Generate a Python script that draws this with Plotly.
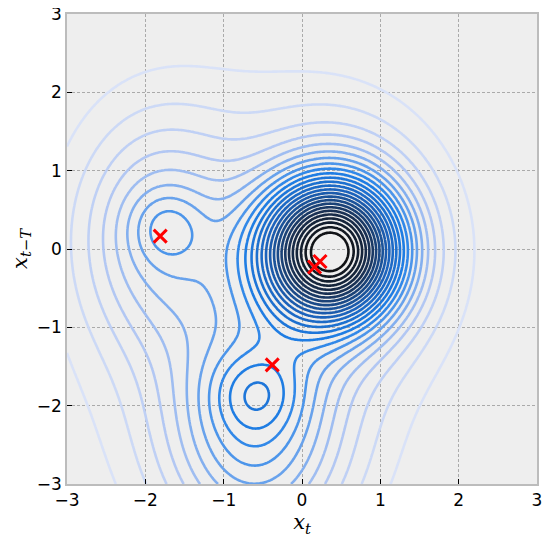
import numpy as np
import plotly.graph_objects as go

# Gaussian mixture components describing the density surface
comp_cx = [0.36, 0.50, -1.72, -1.85, -0.58, -0.60, -0.70]
comp_cy = [-0.03, 0.05, 0.28, 0.20, -1.82, -2.40, -0.60]
comp_sx = [0.60, 0.78, 0.32, 0.70, 0.40, 0.80, 1.30]
comp_sy = [0.60, 0.95, 0.32, 1.00, 0.36, 1.00, 1.70]
comp_amp = [0.72, 0.26, 0.075, 0.19, 0.10, 0.28, 0.12]

# contour levels
level_start = 0.04
level_end = 1.0
level_step = 0.04

# marked points (red crosses)
mark_x = [-1.81, 0.23, 0.16, -0.38]
mark_y = [0.165, -0.16, -0.23, -1.48]

tick_vals = [-3, -2, -1, 0, 1, 2, 3]

gx = np.linspace(-3, 3, 301)
gy = np.linspace(-3, 3, 301)
X, Y = np.meshgrid(gx, gy)
Z = np.zeros_like(X)
for cx, cy, sx, sy, a in zip(comp_cx, comp_cy, comp_sx, comp_sy, comp_amp):
    Z += a * np.exp(-0.5 * (((X - cx) / sx) ** 2 + ((Y - cy) / sy) ** 2))

cscale = [
    [0.0, "#d9e2f8"],
    [0.15, "#aac2f2"],
    [0.36, "#1f7fe6"],
    [0.55, "#1c62ba"],
    [0.78, "#1a3358"],
    [1.0, "#111316"],
]

fig = go.Figure()
fig.add_trace(go.Contour(
    x=gx, y=gy, z=Z, zmin=0.02, zmax=1.0,
    contours=dict(start=level_start, end=level_end, size=level_step, coloring="lines"),
    colorscale=cscale, line=dict(width=2.6), showscale=False,
    hoverinfo="skip",
))
fig.add_trace(go.Scatter(
    x=mark_x, y=mark_y, mode="markers",
    marker=dict(symbol="x-thin", size=13, line=dict(width=3, color="#ff0000"), color="#ff0000"),
    hoverinfo="skip",
))

axis_common = dict(
    range=[-3, 3], tickvals=tick_vals, showgrid=True, automargin=False,
    gridcolor="#aaaaaa", griddash="3px,2px", gridwidth=0.8,
    zeroline=False, showline=True, linecolor="#bcbcbc", linewidth=1.5, mirror=True,
    ticks="inside", ticklen=5, tickcolor="#000000", tickwidth=1,
    ticklabeloverflow="allow",
    tickfont=dict(family="DejaVu Sans", size=17, color="#000000"),
)

fig.update_layout(
    width=550, height=544,
    margin=dict(l=59, r=21, t=6, b=68),
    paper_bgcolor="#ffffff", plot_bgcolor="#eeeeee",
    showlegend=False,
    xaxis=dict(**axis_common,
               title=dict(text="<i>x</i><sub><i>t</i></sub>", font=dict(family="DejaVu Serif", size=21, color="#000"), standoff=0)),
    yaxis=dict(**axis_common,
               title=dict(text="<i>x</i><sub><i>t</i>−<i>T</i></sub>", font=dict(family="DejaVu Serif", size=21, color="#000"), standoff=8)),
)

fig.write_html("out.html")
